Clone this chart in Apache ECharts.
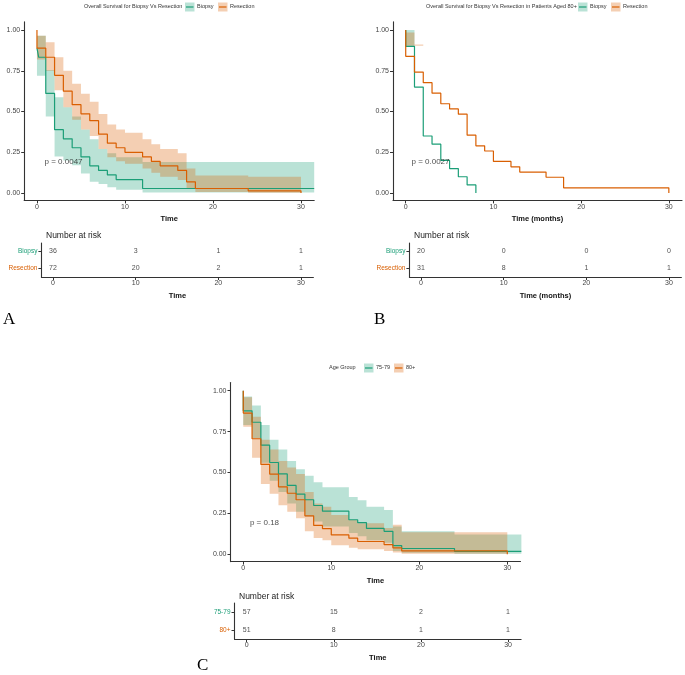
<!DOCTYPE html>
<html>
<head>
<meta charset="utf-8">
<script src="https://cdn.jsdelivr.net/npm/echarts@6/dist/echarts.min.js"></script>
<style>
  html, body { margin: 0; padding: 0; background: #fff; }
  #chart { width: 685px; height: 675px; }
</style>
</head>
<body>
<div id="chart"></div>
<script>
// ---- panel A: biopsy vs resection ----
const aBioT = [0, 0.2, 1, 2, 3, 4, 5, 6, 7, 8, 9, 12, 31.5];
const aBioS = [0.889, 0.833, 0.611, 0.389, 0.333, 0.278, 0.222, 0.167, 0.139, 0.111, 0.083, 0.028, 0.028];
const aBioLo = [0.72, 0.72, 0.47, 0.225, 0.2, 0.17, 0.12, 0.07, 0.055, 0.035, 0.02, 0.004];
const aBioHi = [0.965, 0.965, 0.755, 0.588, 0.527, 0.47, 0.39, 0.33, 0.27, 0.245, 0.22, 0.19];

const aResT = [0, 0, 1, 2, 3, 4, 5, 6, 7, 8, 9, 10, 12, 13, 14, 16, 17, 18, 24, 30, 30];
const aResS = [1, 0.889, 0.833, 0.722, 0.625, 0.542, 0.486, 0.444, 0.361, 0.306, 0.278, 0.25, 0.222, 0.194, 0.167, 0.139, 0.069, 0.028, 0.014, 0.014, 0];
const aResLo = [null, 0.82, 0.75, 0.63, 0.527, 0.45, 0.39, 0.35, 0.27, 0.22, 0.195, 0.18, 0.15, 0.125, 0.10, 0.08, 0.03, 0.007, 0.002, null];
const aResHi = [null, 0.965, 0.925, 0.833, 0.75, 0.67, 0.61, 0.56, 0.485, 0.42, 0.39, 0.37, 0.33, 0.30, 0.27, 0.245, 0.15, 0.108, 0.10, null];

// ---- panel B: aged 80+ ----
const bBioT = [0, 0, 1, 2, 3, 4, 5, 6, 7, 8];
const bBioS = [1, 0.9, 0.65, 0.35, 0.30, 0.20, 0.15, 0.10, 0.05, 0];
const bBioLo = [null, 0.9, null, null, null, null, null, null, null];
const bBioHi = [null, 1.0, null, null, null, null, null, null, null];

const bResT = [0, 0, 1, 2, 3, 4, 5, 6, 7, 8, 9, 10, 12, 13, 16, 18, 30];
const bResS = [1, 0.839, 0.742, 0.677, 0.613, 0.548, 0.516, 0.484, 0.355, 0.290, 0.258, 0.194, 0.161, 0.129, 0.097, 0.032, 0];
const bResLo = [null, 0.904, 0.903, null, null, null, null, null, null, null, null, null, null, null, null, null];
const bResHi = [null, 0.985, 0.912, null, null, null, null, null, null, null, null, null, null, null, null, null];

// ---- panel C: age group ----
const cYoungT = [0, 0, 1, 2, 3, 4, 5, 6, 7, 8, 9, 12, 13, 14, 16, 17, 18, 24, 31.6];
const cYoungS = [1, 0.877, 0.807, 0.667, 0.561, 0.491, 0.421, 0.368, 0.333, 0.298, 0.263, 0.211, 0.193, 0.158, 0.140, 0.053, 0.035, 0.018, 0.018];
const cYoungLo = [null, 0.79, 0.71, 0.56, 0.45, 0.38, 0.31, 0.26, 0.23, 0.20, 0.17, 0.13, 0.11, 0.085, 0.07, 0.02, 0.009, 0.003];
const cYoungHi = [null, 0.965, 0.91, 0.79, 0.70, 0.64, 0.57, 0.52, 0.48, 0.44, 0.41, 0.35, 0.33, 0.29, 0.27, 0.17, 0.14, 0.12];

const cOldT = [0, 0, 1, 2, 3, 4, 5, 6, 7, 8, 9, 10, 12, 13, 16, 17, 18, 30, 30];
const cOldS = [1, 0.863, 0.706, 0.549, 0.490, 0.412, 0.373, 0.333, 0.235, 0.176, 0.157, 0.118, 0.098, 0.078, 0.059, 0.039, 0.020, 0.020, 0];
const cOldLo = [null, 0.78, 0.59, 0.43, 0.37, 0.30, 0.26, 0.22, 0.14, 0.10, 0.085, 0.055, 0.04, 0.03, 0.02, 0.01, 0.003, null];
const cOldHi = [null, 0.96, 0.84, 0.70, 0.64, 0.57, 0.53, 0.49, 0.38, 0.31, 0.29, 0.24, 0.21, 0.19, 0.16, 0.18, 0.134, null];

// ---- number at risk ----
const riskTimes = [0, 10, 20, 30];
const aRiskBio = [36, 3, 1, 1];
const aRiskRes = [72, 20, 2, 1];
const bRiskBio = [20, 0, 0, 0];
const bRiskRes = [31, 8, 1, 1];
const cRiskYoung = [57, 15, 2, 1];
const cRiskOld = [51, 8, 1, 1];

const pA = 'p = 0.0047', pB = 'p = 0.0027', pC = 'p = 0.18';
const xTicks = [0, 10, 20, 30];
const yTicks = [0, 0.25, 0.5, 0.75, 1];

const FONT = 'Liberation Sans, Arial, sans-serif';
const GREEN = '#1b9e77';
const ORANGE = '#d95f02';

function steps(T, S) {
  return T.map((t, i) => [t, S[i]]);
}

function intervals(T, lo, hi) {
  const out = [];
  for (let i = 0; i < T.length - 1; i++) {
    if (lo[i] != null) out.push([T[i], T[i + 1], lo[i], hi[i]]);
  }
  return out;
}

// confidence band drawn as one step polygon per group
function band(ax, T, lo, hi, color) {
  return {
    type: 'custom', xAxisIndex: ax, yAxisIndex: ax, silent: true, z: 1,
    data: intervals(T, lo, hi),
    renderItem: function (params, api) {
      if (params.dataIndexInside !== 0) return null;
      const up = [], dn = [];
      for (let i = 0; i < params.dataInsideLength; i++) {
        const t0 = api.value(0, i), t1 = api.value(1, i);
        const l = api.value(2, i), h = api.value(3, i);
        up.push(api.coord([t0, h]), api.coord([t1, h]));
        dn.push(api.coord([t0, l]), api.coord([t1, l]));
      }
      return {
        type: 'polygon',
        shape: { points: up.concat(dn.reverse()) },
        style: { fill: color, opacity: 0.3 }
      };
    }
  };
}

function curve(ax, T, S, color) {
  return {
    type: 'line', xAxisIndex: ax, yAxisIndex: ax, step: 'end', symbol: 'none', z: 2,
    data: steps(T, S), silent: true,
    lineStyle: { color: color, width: 1.2 }
  };
}

function pLabel(ax, x, y, text) {
  return {
    type: 'scatter', xAxisIndex: ax, yAxisIndex: ax, symbolSize: 1, silent: true,
    itemStyle: { color: 'rgba(0,0,0,0)' },
    data: [[x, y]],
    label: { show: true, position: 'right', distance: 0, formatter: text, fontSize: 8, color: '#222', fontFamily: FONT }
  };
}

function riskRows(ax, names, rows) {
  const data = [];
  names.forEach((nm, k) => {
    riskTimes.forEach((t, i) => data.push([t, nm, rows[k][i]]));
  });
  return {
    type: 'scatter', xAxisIndex: ax, yAxisIndex: ax, symbolSize: 1, silent: true,
    itemStyle: { color: 'rgba(0,0,0,0)' },
    data: data,
    label: { show: true, position: 'inside', formatter: p => p.value[2], fontSize: 7, color: '#222', fontFamily: FONT }
  };
}

const axisLineStyle = { show: true, onZero: false, lineStyle: { color: '#333', width: 1.1 } };

function mainX(name) {
  return {
    type: 'value', min: -1.45, max: 31.5,
    axisLine: axisLineStyle,
    axisTick: { show: true, customValues: xTicks, length: 3, lineStyle: { color: '#333' } },
    axisLabel: { customValues: xTicks, fontSize: 7, color: '#444', margin: 3, fontFamily: FONT },
    splitLine: { show: false },
    name: name, nameLocation: 'middle', nameGap: 15,
    nameTextStyle: { fontSize: 7.5, color: '#111', fontFamily: FONT, fontWeight: 'bold' }
  };
}

function mainY() {
  return {
    type: 'value', min: -0.045, max: 1.05,
    axisLine: axisLineStyle,
    axisTick: { show: true, customValues: yTicks, length: 3, lineStyle: { color: '#333' } },
    axisLabel: { customValues: yTicks, fontSize: 7, color: '#444', margin: 4, fontFamily: FONT, formatter: v => v.toFixed(2) },
    splitLine: { show: false }
  };
}

function riskX(name, min, max) {
  return {
    type: 'value', min: min, max: max,
    axisLine: axisLineStyle,
    axisTick: { show: true, customValues: xTicks, length: 3, lineStyle: { color: '#333' } },
    axisLabel: { customValues: xTicks, fontSize: 7, color: '#444', margin: 3, fontFamily: FONT },
    splitLine: { show: false },
    name: name, nameLocation: 'middle', nameGap: 15,
    nameTextStyle: { fontSize: 7.5, color: '#111', fontFamily: FONT, fontWeight: 'bold' }
  };
}

function riskY(names, colors) {
  return {
    type: 'category', data: names.slice().reverse(),
    axisLine: axisLineStyle,
    axisTick: { show: true, alignWithLabel: true, length: 3, lineStyle: { color: '#333' } },
    axisLabel: { fontSize: 6.5, margin: 4, fontFamily: FONT, color: v => colors[names.indexOf(v)] }
  };
}

function legend(x0, y, title, keys, labels) {
  const els = [{
    type: 'text', left: x0, top: y - 3.5,
    style: { text: title, fontSize: 5.5, fill: '#333', fontFamily: FONT }
  }];
  const colors = [GREEN, ORANGE];
  keys.forEach((kx, i) => {
    els.push({ type: 'rect', shape: { x: kx, y: y - 4.5, width: 9.5, height: 9 }, style: { fill: colors[i], opacity: 0.3 } });
    els.push({ type: 'line', shape: { x1: kx + 1, y1: y, x2: kx + 8.5, y2: y }, style: { stroke: colors[i], lineWidth: 1.2 } });
    els.push({ type: 'text', left: kx + 12, top: y - 3.5, style: { text: labels[i], fontSize: 5.5, fill: '#333', fontFamily: FONT } });
  });
  return els;
}

const chart = echarts.init(document.getElementById('chart'), null, { renderer: 'canvas' });

const option = {
  backgroundColor: '#fff',
  animation: false,
  textStyle: { fontFamily: FONT },
  title: [
    { text: 'Number at risk', left: 41, top: 226, textStyle: { fontSize: 8.5, fontWeight: 'normal', color: '#222', fontFamily: FONT } },
    { text: 'Number at risk', left: 409, top: 226, textStyle: { fontSize: 8.5, fontWeight: 'normal', color: '#222', fontFamily: FONT } },
    { text: 'Number at risk', left: 234, top: 587, textStyle: { fontSize: 8.5, fontWeight: 'normal', color: '#222', fontFamily: FONT } }
  ],
  grid: [
    { left: 24.2, top: 21.9, width: 290, height: 178.5 },
    { left: 393, top: 21.9, width: 289, height: 178.5 },
    { left: 230.5, top: 382.5, width: 290, height: 179.1 },
    { left: 41.4, top: 243, width: 272, height: 34 },
    { left: 409.4, top: 243, width: 272, height: 34 },
    { left: 234.5, top: 603, width: 286.6, height: 36 }
  ],
  xAxis: [
    Object.assign(mainX('Time'), { gridIndex: 0 }),
    Object.assign(mainX('Time (months)'), { gridIndex: 1 }),
    Object.assign(mainX('Time'), { gridIndex: 2 }),
    Object.assign(riskX('Time', -1.4, 31.5), { gridIndex: 3 }),
    Object.assign(riskX('Time (months)', -1.4, 31.5), { gridIndex: 4 }),
    Object.assign(riskX('Time', -1.4, 31.5), { gridIndex: 5 })
  ],
  yAxis: [
    Object.assign(mainY(), { gridIndex: 0 }),
    Object.assign(mainY(), { gridIndex: 1 }),
    Object.assign(mainY(), { gridIndex: 2 }),
    Object.assign(riskY(['Biopsy', 'Resection'], [GREEN, ORANGE]), { gridIndex: 3 }),
    Object.assign(riskY(['Biopsy', 'Resection'], [GREEN, ORANGE]), { gridIndex: 4 }),
    Object.assign(riskY(['75-79', '80+'], [GREEN, ORANGE]), { gridIndex: 5 })
  ],
  series: [
    band(0, aBioT, aBioLo, aBioHi, GREEN),
    band(0, aResT, aResLo, aResHi, ORANGE),
    curve(0, aBioT, aBioS, GREEN),
    curve(0, aResT, aResS, ORANGE),
    pLabel(0, 0.8, 0.19, pA),

    band(1, bBioT, bBioLo, bBioHi, GREEN),
    band(1, bResT, bResLo, bResHi, ORANGE),
    curve(1, bBioT, bBioS, GREEN),
    curve(1, bResT, bResS, ORANGE),
    pLabel(1, 0.6, 0.19, pB),

    band(2, cYoungT, cYoungLo, cYoungHi, GREEN),
    band(2, cOldT, cOldLo, cOldHi, ORANGE),
    curve(2, cYoungT, cYoungS, GREEN),
    curve(2, cOldT, cOldS, ORANGE),
    pLabel(2, 0.7, 0.19, pC),

    riskRows(3, ['Biopsy', 'Resection'], [aRiskBio, aRiskRes]),
    riskRows(4, ['Biopsy', 'Resection'], [bRiskBio, bRiskRes]),
    riskRows(5, ['75-79', '80+'], [cRiskYoung, cRiskOld])
  ],
  graphic: [].concat(
    legend(84, 7, 'Overall Survival for Biopsy Vs Resection', [185, 218], ['Biopsy', 'Resection']),
    legend(426, 7, 'Overall Survival for Biopsy Vs Resection in Patients Aged 80+', [578, 611], ['Biopsy', 'Resection']),
    legend(329, 368, 'Age Group', [364, 394], ['75-79', '80+']),
    [
      { type: 'text', left: 3, top: 311, style: { text: 'A', fontSize: 17, fill: '#000', fontFamily: 'Liberation Serif, Times New Roman, serif' } },
      { type: 'text', left: 374, top: 311, style: { text: 'B', fontSize: 17, fill: '#000', fontFamily: 'Liberation Serif, Times New Roman, serif' } },
      { type: 'text', left: 197, top: 657, style: { text: 'C', fontSize: 17, fill: '#000', fontFamily: 'Liberation Serif, Times New Roman, serif' } }
    ]
  )
};

chart.setOption(option);
</script>
</body>
</html>
